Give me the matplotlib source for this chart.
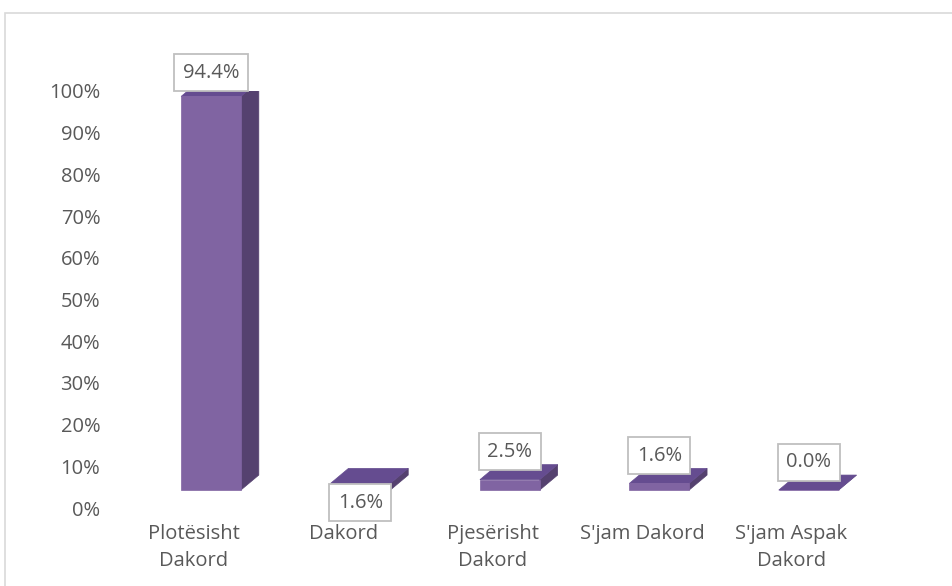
import matplotlib
matplotlib.use("Agg")
import matplotlib.pyplot as plt
import numpy as np
from matplotlib.patches import Rectangle, Polygon
from matplotlib.ticker import PercentFormatter

categories = ["Plotësisht\nDakord", "Dakord", "Pjesërisht\nDakord", "S'jam Dakord", "S'jam Aspak\nDakord"]
values = [94.4, 1.6, 2.5, 1.6, 0.0]
yticks = [0, 10, 20, 30, 40, 50, 60, 70, 80, 90, 100]

# style constants
FRONT = "#8064a2"
SIDE = "#55416f"
TOP = "#654c90"
TEXT = "#595959"
FONT = "Open Sans"
FS = 14.5
W = 0.40        # bar width (category units)
DX = 0.12       # depth offset x
DY = 3.6        # depth offset y
FLOOR = 4.3     # front face baseline
LABEL_OFF = [17, -14, 20, 20, 20]   # label offsets in points
XLABEL_SHIFT = 0.115

plt.rcParams['font.family'] = [FONT, 'DejaVu Sans']

fig = plt.figure(figsize=(9.52, 5.86), dpi=100)
fig.patch.set_facecolor("white")

# chart border
fig.patches.append(Rectangle((5/952, -0.05), 1.1, 1 - 13/586 + 0.05,
                             transform=fig.transFigure, fill=False,
                             ec="#d9d9d9", lw=1.2, zorder=0))

ax = fig.add_axes([110/952, (586-508)/586, 830/952, (508-91)/586])
ax.set_xlim(-0.676, 4.879)
ax.set_ylim(0, 100)
for s in ax.spines.values():
    s.set_visible(False)
ax.set_facecolor("none")

x = np.arange(len(categories))
for xi, v, off in zip(x, values, LABEL_OFF):
    l, r = xi - W/2, xi + W/2
    b, t = FLOOR, FLOOR + v
    ax.add_patch(Polygon([(r, b), (r+DX, b+DY), (r+DX, t+DY), (r, t)],
                         closed=True, fc=SIDE, ec=SIDE, lw=0.5, zorder=2))
    ax.add_patch(Polygon([(l, t), (l+DX, t+DY), (r+DX, t+DY), (r, t)],
                         closed=True, fc=TOP, ec=TOP, lw=0.5, zorder=3))
    ax.add_patch(Rectangle((l, b), W, v, fc=FRONT, ec=FRONT, lw=0.5, zorder=3))
    ax.annotate(f"{v:.1f}%", xy=(xi, t), xytext=(0, off), textcoords="offset points",
                ha="center", va="center", fontsize=FS, color=TEXT, zorder=5,
                annotation_clip=False,
                bbox=dict(boxstyle="square,pad=0.42", fc="white", ec="#bfbfbf", lw=1.3))

ax.set_yticks(yticks)
ax.yaxis.set_major_formatter(PercentFormatter(decimals=0))
ax.set_xticks(x - XLABEL_SHIFT, categories)
ax.tick_params(axis="both", length=0, labelsize=FS, labelcolor=TEXT)
ax.tick_params(axis="y", pad=7)
ax.tick_params(axis="x", pad=11.5)
for lbl in ax.get_xticklabels():
    lbl.set_linespacing(1.45)

fig.savefig("out.png", dpi=100, facecolor="white")
